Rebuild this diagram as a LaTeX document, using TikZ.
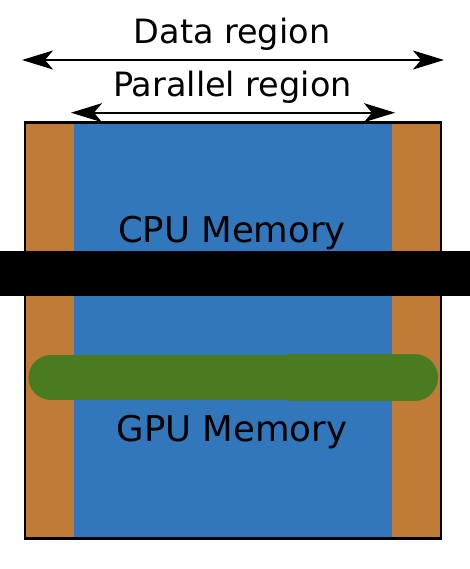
\documentclass[tikz,border=0pt]{standalone}
\usepackage{fontspec}
\setmainfont{DejaVu Sans}
\usetikzlibrary{arrows.meta}
\definecolor{hostorange}{RGB}{192,123,54}
\definecolor{membblue}{RGB}{50,119,187}
\definecolor{gpugreen}{RGB}{73,124,32}
\begin{document}
\begin{tikzpicture}[
    x=1pt, y=-1pt,
    regionlabel/.style={font=\fontsize{33.5}{40}\selectfont, anchor=base, inner sep=0pt},
    memlabel/.style={font=\fontsize{35.5}{43}\selectfont, anchor=base, inner sep=0pt},
    spanarrow/.style={line width=2pt, {Stealth[length=31pt, width=19pt, inset=8pt]}-{Stealth[length=31pt, width=19pt, inset=8pt]}}
]
\useasboundingbox (0,0) rectangle (470,569);

% memory block
\fill[hostorange] (25,123) rectangle (441,538);
\fill[membblue] (74,123) rectangle (392,538);
\draw[line width=2.2pt] (25,122.5) rectangle (441,538.5);

\node[memlabel] (cpumem) at (232,242) {CPU Memory};
\node[memlabel] (gpumem) at (232,441.5) {GPU Memory};

% bars
\fill[black] (0,251) rectangle (470,295.5);
\draw[gpugreen, line width=45pt, line cap=round] (51,377.5) -- (290,377.5);
\fill[gpugreen] (288,354) rectangle (314,401);
\draw[gpugreen, line width=47pt, line cap=round] (312,377.5) -- (414.5,377.5);

% span arrows
\node[regionlabel] (datalbl) at (232,43.3) {Data region};
\node[regionlabel] (parlbl) at (232.5,96.7) {Parallel region};
\coordinate (dataL) at (22,60);
\coordinate (dataR) at (444,60);
\coordinate (parL) at (71,112.7);
\coordinate (parR) at (395,112.7);
\draw[spanarrow] (dataL) -- (dataR);
\draw[spanarrow] (parL) -- (parR);

\end{tikzpicture}
\end{document}
